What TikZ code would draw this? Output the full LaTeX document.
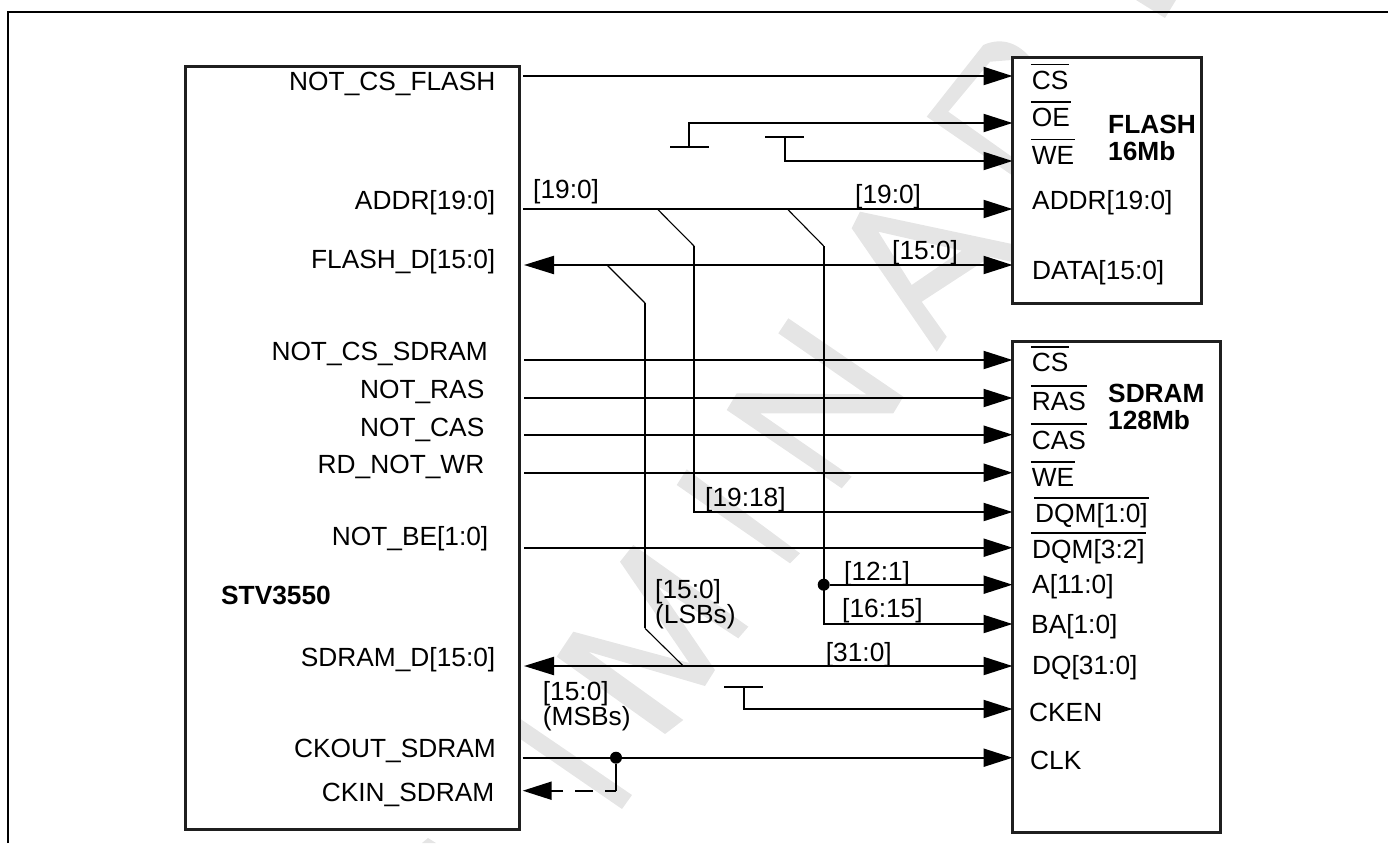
\documentclass[tikz,border=0pt]{standalone}
\usepackage{fontspec}
\setmainfont{Liberation Sans}
\usetikzlibrary{arrows.meta}
\definecolor{wmGray}{HTML}{E5E5E5}
\newsavebox{\sigbox}
\newcommand{\notsig}[1]{\sbox{\sigbox}{#1}\rlap{\kern-1pt\raisebox{24pt}{\rule{\dimexpr\wd\sigbox+2pt\relax}{1.6pt}}}\usebox{\sigbox}}
\tikzset{
    chipbox/.style={draw=black!88, line width=3pt, fill=white, outer sep=0pt},
    pinlabel/.style={inner sep=0pt, anchor=base west, font=\fontsize{26.3}{28}\selectfont},
    chiplabel/.style={inner sep=0pt, anchor=base east, font=\fontsize{26.3}{28}\selectfont},
    buslabel/.style={inner sep=0pt, anchor=base west, align=left, font=\fontsize{26.3}{25}\selectfont},
    memname/.style={inner sep=0pt, anchor=base west, align=left, font=\fontsize{26.3}{27}\selectfont\bfseries},
    sigline/.style={line width=2.1pt, black},
    sigarrow/.style={sigline, -{Triangle[length=29pt,width=18pt]}},
    sigboth/.style={sigline, {Triangle[length=30pt,width=18pt]}-{Triangle[length=29pt,width=18pt]}},
    thinline/.style={line width=1.1pt, black},
    junction/.style={circle, fill=black, inner sep=0pt, minimum size=12pt}
}
\begin{document}
\begin{tikzpicture}[x=1pt,y=-1pt]
    \useasboundingbox (0,0) rectangle (1388,843);

    % Watermark letters behind everything
    \fill[wmGray] (1136,0) -- (1165,18) -- (1176,0) -- cycle;
    \fill[wmGray] (422,843) -- (428,838) -- (436,843) -- cycle;
    \fill[wmGray] (500,705) -- (632,795) -- (622,809) -- (500,725) -- cycle;
    \fill[wmGray] (665,734) -- (556.7,656.7) -- (573.3,631.7) -- (689.3,663) -- (620,561.7) -- (633.3,545) -- (748.3,626.7) -- (738.3,638.3) -- (657.7,586) -- (715,670) -- (705,686) -- (588.3,651.7) -- (683.3,720) -- cycle;
    \fill[wmGray] (686.7,469.3) -- (800,553.3) -- (790,563.3) -- (676.7,485) -- cycle;
    \fill[wmGray] (736.7,393.3) -- (866.3,394.3) -- (778.3,333.3) -- (788.3,318.3) -- (903.3,396.7) -- (893.3,413.3) -- (760,413.3) -- (851.7,476.7) -- (841.7,488.3) -- (726.7,410) -- cycle;
    \fill[wmGray,even odd rule] (851.7,228.3) -- (860,211.7) -- (1016.7,245) -- (1016.7,263) -- (990.3,257) -- (921.7,301.7) -- (946.7,336.7) -- (936.7,351.7) -- cycle
        (878.3,231.7) -- (911.7,285) -- (961.7,250.7) -- cycle;
    \fill[wmGray,even odd rule] (926.7,116.7) -- (983.3,45) .. controls (998.3,38.3) and (1015,40) .. (1030,57.3) -- (1030,186.7) -- (1011.7,175) -- cycle
        (948.3,111.7) -- (990,61.7) -- (1011.7,60) -- (1023,100) -- (1023,160) -- (1011.7,156.7) -- cycle;

    % Page frame
    \draw[line width=2pt] (8,843) -- (8,12) -- (1388,12);

    % Chip and memories
    \node[chipbox, minimum width=334.2pt, minimum height=763.5pt] at (352.1,447.8) (stv) {};
    \node[chipbox, minimum width=189pt, minimum height=245.6pt] at (1107,180.5) (flash) {};
    \node[chipbox, minimum width=208.2pt, minimum height=491.5pt] at (1116.6,586.75) (sdram) {};

    \node[memname] at (221,604) (stvname) {STV3550};
    \node[memname] at (1108,160) (flashname) {FLASH\\16Mb};
    \node[memname] at (1108,429.3) (sdramname) {SDRAM\\128Mb};

    % Chip pin labels
    \node[chiplabel] at (495.5,90) (lCsFlash) {NOT\_CS\_FLASH};
    \node[chiplabel] at (495.5,209) (lAddr) {ADDR[19:0]};
    \node[chiplabel] at (495.5,268) (lFlashD) {FLASH\_D[15:0]};
    \node[chiplabel] at (488,360) (lCsSdram) {NOT\_CS\_SDRAM};
    \node[chiplabel] at (484.5,398) (lRas) {NOT\_RAS};
    \node[chiplabel] at (484.5,436) (lCas) {NOT\_CAS};
    \node[chiplabel] at (484.5,473) (lRdWr) {RD\_NOT\_WR};
    \node[chiplabel] at (488.5,545) (lBe) {NOT\_BE[1:0]};
    \node[chiplabel] at (495.5,666.7) (lSdramD) {SDRAM\_D[15:0]};
    \node[chiplabel] at (496,757.7) (lCkOut) {CKOUT\_SDRAM};
    \node[chiplabel] at (494.5,801.7) (lCkIn) {CKIN\_SDRAM};

    % FLASH pin labels
    \node[pinlabel] at (1031.7,89.3) (fCs) {\notsig{CS}};
    \node[pinlabel] at (1031.7,126.7) (fOe) {\notsig{OE}};
    \node[pinlabel] at (1031.7,164.3) (fWe) {\notsig{WE}};
    \node[pinlabel] at (1032,209) (fAddr) {ADDR[19:0]};
    \node[pinlabel] at (1032,279) (fData) {DATA[15:0]};

    % SDRAM pin labels
    \node[pinlabel] at (1031.7,371.7) (sCs) {\notsig{CS}};
    \node[pinlabel] at (1031.7,410.7) (sRas) {\notsig{RAS}};
    \node[pinlabel] at (1031.7,449) (sCas) {\notsig{CAS}};
    \node[pinlabel] at (1031.7,486.7) (sWe) {\notsig{WE}};
    \node[pinlabel] at (1035,522.7) (sDqmA) {\notsig{DQM[1:0]}};
    \node[pinlabel] at (1032,558) (sDqmB) {\notsig{DQM[3:2]}};
    \node[pinlabel] at (1032,593) (sA) {A[11:0]};
    \node[pinlabel] at (1031,633) (sBa) {BA[1:0]};
    \node[pinlabel] at (1032,674) (sDq) {DQ[31:0]};
    \node[pinlabel] at (1029,721.7) (sCken) {CKEN};
    \node[pinlabel] at (1030,769) (sClk) {CLK};

    % Bus labels
    \node[buslabel] at (533,198) (bAddrA) {[19:0]};
    \node[buslabel] at (855,203) (bAddrB) {[19:0]};
    \node[buslabel] at (892,259) (bData) {[15:0]};
    \node[buslabel] at (705,506) (bDqm) {[19:18]};
    \node[buslabel] at (844,580) (bA) {[12:1]};
    \node[buslabel] at (842,617) (bBa) {[16:15]};
    \node[buslabel] at (825.7,661.7) (bDq) {[31:0]};
    \node[buslabel] at (655,623) (bLsb) {[15:0]\\(LSBs)};
    \node[buslabel] at (542.7,725) (bMsb) {[15:0]\\(MSBs)};

    % Junction points
    \node[junction] at (823.7,584.7) (jA) {};
    \node[junction] at (616,757.7) (jClk) {};

    % Free ends at the chip side
    \coordinate (oCsFlash) at (523,76);
    \coordinate (oAddr) at (523,209);
    \coordinate (oFlashD) at (524,265);
    \coordinate (oCsSdram) at (524,360);
    \coordinate (oRas) at (524,398);
    \coordinate (oCas) at (524,434.7);
    \coordinate (oRdWr) at (524,472.7);
    \coordinate (oBe) at (524,547.7);
    \coordinate (oSdramD) at (524,666);
    \coordinate (oCkOut) at (522.7,757.7);
    \coordinate (oCkIn) at (522.7,790.7);

    % Tied-off pins
    \coordinate (tieOeA) at (670,146.7);
    \coordinate (tieOeB) at (709,146.7);
    \coordinate (tieOe) at (689,146.7);
    \coordinate (tieWeA) at (765,136.7);
    \coordinate (tieWeB) at (804,136.7);
    \coordinate (tieWe) at (785,136.7);
    \coordinate (tieCkenA) at (724,686.7);
    \coordinate (tieCkenB) at (763,686.7);
    \coordinate (tieCken) at (744,686.7);

    % Bus taps
    \coordinate (tapDqm) at (657.3,209);
    \coordinate (bendDqm) at (694,246);
    \coordinate (tapAddr) at (787.3,209);
    \coordinate (bendAddr) at (823.7,246);
    \coordinate (tapFlashD) at (607,265);
    \coordinate (bendLsbA) at (645,303);
    \coordinate (bendLsbB) at (645,628.3);
    \coordinate (tapLsb) at (683.3,666);

    % Straight signals
    \draw[sigarrow] (oCsFlash) -- (oCsFlash -| flash.west);
    \draw[sigarrow] (oAddr) -- (oAddr -| flash.west);
    \draw[sigboth] (oFlashD) -- (oFlashD -| flash.west);
    \draw[sigarrow] (oCsSdram) -- (oCsSdram -| sdram.west);
    \draw[sigarrow] (oRas) -- (oRas -| sdram.west);
    \draw[sigarrow] (oCas) -- (oCas -| sdram.west);
    \draw[sigarrow] (oRdWr) -- (oRdWr -| sdram.west);
    \draw[sigarrow] (oBe) -- (oBe -| sdram.west);
    \draw[sigboth] (oSdramD) -- (oSdramD -| sdram.west);
    \draw[sigarrow] (oCkOut) -- (oCkOut -| sdram.west);

    % Tied-off pins
    \draw[sigline] (tieOeA) -- (tieOeB);
    \draw[sigarrow] (tieOe) |- (flash.west |- 0,123);
    \draw[sigline] (tieWeA) -- (tieWeB);
    \draw[sigarrow] (tieWe) |- (flash.west |- 0,161);
    \draw[sigline] (tieCkenA) -- (tieCkenB);
    \draw[sigarrow] (tieCken) |- (sdram.west |- 0,709);

    % Address branches
    \draw[thinline] (tapDqm) -- (bendDqm);
    \draw[sigarrow] (bendDqm) |- (sdram.west |- 0,512);
    \draw[thinline] (tapAddr) -- (bendAddr);
    \draw[sigarrow] (bendAddr) |- (sdram.west |- 0,624);
    \draw[sigarrow] (jA) -- (jA -| sdram.west);

    % Data branch
    \draw[thinline] (tapFlashD) -- (bendLsbA);
    \draw[sigline] (bendLsbA) -- (bendLsbB);
    \draw[thinline] (bendLsbB) -- (tapLsb);

    % Clock feedback
    \draw[sigline] (jClk) -- (jClk |- oCkIn);
    \draw[sigline, -{Triangle[length=29pt,width=18pt]}, dash pattern=on 11pt off 12pt on 18pt off 12pt on 30pt] (jClk |- oCkIn) -- (oCkIn);
\end{tikzpicture}
\end{document}
